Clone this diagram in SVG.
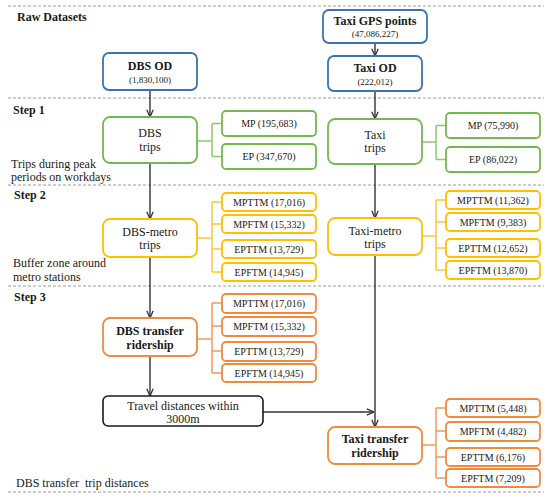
<svg xmlns="http://www.w3.org/2000/svg" width="550" height="501" viewBox="0 0 550 501" font-family="'Liberation Serif', 'DejaVu Serif', serif">
<defs>
<style>
text{font-family:'Liberation Serif','DejaVu Serif',serif;fill:#1a1a1a;text-anchor:middle}
.lbl{text-anchor:start;font-size:12px}
.step{text-anchor:start;font-size:12px;font-weight:bold}
.dash{stroke:#9a9a9a;stroke-width:1;stroke-dasharray:3,2;fill:none}
.main{font-size:12px}
.bold{font-size:12px;font-weight:bold}
.num{font-size:9px}
.sm{font-size:10px}
.blue{fill:#fff;stroke:#3A74B5;stroke-width:1.8}
.green{fill:#fff;stroke:#74B94F;stroke-width:1.8}
.yellow{fill:#fff;stroke:#FFC000;stroke-width:1.8}
.orange{fill:#fff;stroke:#F28A3E;stroke-width:1.8}
.black{fill:#fff;stroke:#1a1a1a;stroke-width:1.6}
.arr{stroke:#333;stroke-width:1.4;fill:none;marker-end:url(#ah)}
.bg{stroke:#8CC96A;stroke-width:1.5;fill:none}
.by{stroke:#FFC83A;stroke-width:1.5;fill:none}
.bo{stroke:#F39A57;stroke-width:1.5;fill:none}
</style>
<marker id="ah" viewBox="0 0 10 10" refX="10" refY="5" markerWidth="8" markerHeight="8" markerUnits="userSpaceOnUse" orient="auto">
<path d="M1,1 L10,5 L1,9" stroke="#333" stroke-width="1.6" fill="none"/>
</marker>
</defs>
<rect width="550" height="501" fill="#fff"/>
<g id="separators">
<line class="dash" x1="8" y1="6" x2="544" y2="6"/>
<line class="dash" x1="8" y1="98" x2="544" y2="98"/>
<line class="dash" x1="8" y1="185" x2="544" y2="185"/>
<line class="dash" x1="8" y1="286" x2="544" y2="286"/>
<line class="dash" x1="8" y1="492" x2="544" y2="492"/>
</g>
<g id="labels">
<text class="step" x="17" y="21">Raw Datasets</text>
<text class="step" x="13" y="114">Step 1</text>
<text class="lbl" x="11" y="168">Trips during peak</text>
<text class="lbl" x="11" y="181">periods on workdays</text>
<text class="step" x="14" y="199">Step 2</text>
<text class="lbl" x="13" y="267">Buffer zone around</text>
<text class="lbl" x="13" y="281">metro stations</text>
<text class="step" x="14" y="301">Step 3</text>
<text class="lbl" x="16" y="487" xml:space="preserve" style="white-space:pre">DBS transfer  trip distances</text>
</g>
<g id="connectors">
<line class="arr" x1="375" y1="43" x2="375" y2="56"/>
<line class="arr" x1="150" y1="90" x2="150" y2="117"/>
<line class="arr" x1="375" y1="91" x2="375" y2="119"/>
<line class="arr" x1="150" y1="163" x2="150" y2="219"/>
<line class="arr" x1="375" y1="164" x2="375" y2="218"/>
<line class="arr" x1="150" y1="257" x2="150" y2="318"/>
<line class="arr" x1="150" y1="356" x2="150" y2="396"/>
<line class="arr" x1="375" y1="255" x2="375" y2="427"/>
<line class="arr" x1="263" y1="412" x2="374" y2="412"/>
<path class="bg" d="M197,141 H212 M212,123.5 V156.5 M212,123.5 H222 M212,156.5 H222"/>
<path class="bg" d="M422,142 H436 M436,125.5 V159.5 M436,125.5 H446 M436,159.5 H446"/>
<path class="by" d="M197,238 H212 M212,202 V272 M212,202 H222 M212,224 H222 M212,249 H222 M212,272 H222"/>
<path class="by" d="M422,236 H436 M436,200 V270 M436,200 H446 M436,222 H446 M436,248 H446 M436,270 H446"/>
<path class="bo" d="M197,339 H212 M212,303 V373 M212,303 H222 M212,326 H222 M212,351 H222 M212,373 H222"/>
<path class="bo" d="M422,445 H436 M436,408 V478 M436,408 H446 M436,431 H446 M436,457 H446 M436,478 H446"/>
</g>
<g id="dbs-od"><rect class="blue" x="103" y="53" width="94" height="37" rx="6"/><text class="bold" x="150" y="70">DBS OD</text><text class="num" x="150" y="83">(1,830,100)</text></g>
<g id="taxi-gps"><rect class="blue" x="323" y="10" width="104" height="33" rx="6"/><text class="bold" x="375" y="25">Taxi GPS points</text><text class="num" x="375" y="37">(47,086,227)</text></g>
<g id="taxi-od"><rect class="blue" x="328" y="56" width="94" height="35" rx="6"/><text class="bold" x="375" y="72">Taxi OD</text><text class="num" x="375" y="85">(222,012)</text></g>
<g id="dbs-trips"><rect class="green" x="103" y="117" width="94" height="46" rx="7"/><text class="main" x="150" y="137">DBS</text><text class="main" x="150" y="151">trips</text></g>
<g id="taxi-trips"><rect class="green" x="328" y="119" width="94" height="45" rx="7"/><text class="main" x="375" y="139">Taxi</text><text class="main" x="375" y="152">trips</text></g>
<g id="dbs-mp"><rect class="green" x="222" y="111" width="94" height="25" rx="4"/><text class="sm" x="269" y="127">MP (195,683)</text></g>
<g id="dbs-ep"><rect class="green" x="222" y="144" width="94" height="25" rx="4"/><text class="sm" x="269" y="160">EP (347,670)</text></g>
<g id="taxi-mp"><rect class="green" x="446" y="113" width="94" height="25" rx="4"/><text class="sm" x="493" y="129">MP (75,990)</text></g>
<g id="taxi-ep"><rect class="green" x="446" y="147" width="94" height="25" rx="4"/><text class="sm" x="493" y="163">EP (86,022)</text></g>
<g id="dbs-metro"><rect class="yellow" x="103" y="219" width="94" height="38" rx="7"/><text class="main" x="150" y="236">DBS-metro</text><text class="main" x="150" y="249">trips</text></g>
<g id="taxi-metro"><rect class="yellow" x="328" y="218" width="94" height="37" rx="7"/><text class="main" x="375" y="235">Taxi-metro</text><text class="main" x="375" y="248">trips</text></g>
<g id="dbs-y1"><rect class="yellow" x="222" y="193" width="94" height="18" rx="4"/><text class="sm" x="269" y="206">MPTTM (17,016)</text></g>
<g id="dbs-y2"><rect class="yellow" x="222" y="215" width="94" height="18" rx="4"/><text class="sm" x="269" y="228">MPFTM (15,332)</text></g>
<g id="dbs-y3"><rect class="yellow" x="222" y="240" width="94" height="18" rx="4"/><text class="sm" x="269" y="253">EPTTM (13,729)</text></g>
<g id="dbs-y4"><rect class="yellow" x="222" y="263" width="94" height="18" rx="4"/><text class="sm" x="269" y="276">EPFTM (14,945)</text></g>
<g id="taxi-y1"><rect class="yellow" x="446" y="191" width="94" height="18" rx="4"/><text class="sm" x="493" y="204">MPTTM (11,362)</text></g>
<g id="taxi-y2"><rect class="yellow" x="446" y="213" width="94" height="18" rx="4"/><text class="sm" x="493" y="226">MPFTM (9,383)</text></g>
<g id="taxi-y3"><rect class="yellow" x="446" y="239" width="94" height="18" rx="4"/><text class="sm" x="493" y="252">EPTTM (12,652)</text></g>
<g id="taxi-y4"><rect class="yellow" x="446" y="261" width="94" height="18" rx="4"/><text class="sm" x="493" y="274">EPFTM (13,870)</text></g>
<g id="dbs-transfer"><rect class="orange" x="103" y="318" width="94" height="38" rx="7"/><text class="bold" x="150" y="335">DBS transfer</text><text class="bold" x="150" y="349">ridership</text></g>
<g id="dbs-o1"><rect class="orange" x="222" y="294" width="94" height="19" rx="4"/><text class="sm" x="269" y="307">MPTTM (17,016)</text></g>
<g id="dbs-o2"><rect class="orange" x="222" y="317" width="94" height="19" rx="4"/><text class="sm" x="269" y="330">MPFTM (15,332)</text></g>
<g id="dbs-o3"><rect class="orange" x="222" y="342" width="94" height="19" rx="4"/><text class="sm" x="269" y="355">EPTTM (13,729)</text></g>
<g id="dbs-o4"><rect class="orange" x="222" y="364" width="94" height="18" rx="4"/><text class="sm" x="269" y="377">EPFTM (14,945)</text></g>
<g id="travel-dist"><rect class="black" x="103" y="396" width="160" height="30" rx="5"/><text class="main" x="183" y="410">Travel distances within</text><text class="main" x="183" y="423">3000m</text></g>
<g id="taxi-transfer"><rect class="orange" x="328" y="427" width="94" height="37" rx="7"/><text class="bold" x="375" y="443">Taxi transfer</text><text class="bold" x="375" y="457">ridership</text></g>
<g id="taxi-o1"><rect class="orange" x="446" y="399" width="94" height="18" rx="4"/><text class="sm" x="493" y="412">MPTTM (5,448)</text></g>
<g id="taxi-o2"><rect class="orange" x="446" y="422" width="94" height="19" rx="4"/><text class="sm" x="493" y="435">MPFTM (4,482)</text></g>
<g id="taxi-o3"><rect class="orange" x="446" y="448" width="94" height="18" rx="4"/><text class="sm" x="493" y="461">EPTTM (6,176)</text></g>
<g id="taxi-o4"><rect class="orange" x="446" y="469" width="94" height="18" rx="4"/><text class="sm" x="493" y="482">EPFTM (7,209)</text></g>
</svg>
